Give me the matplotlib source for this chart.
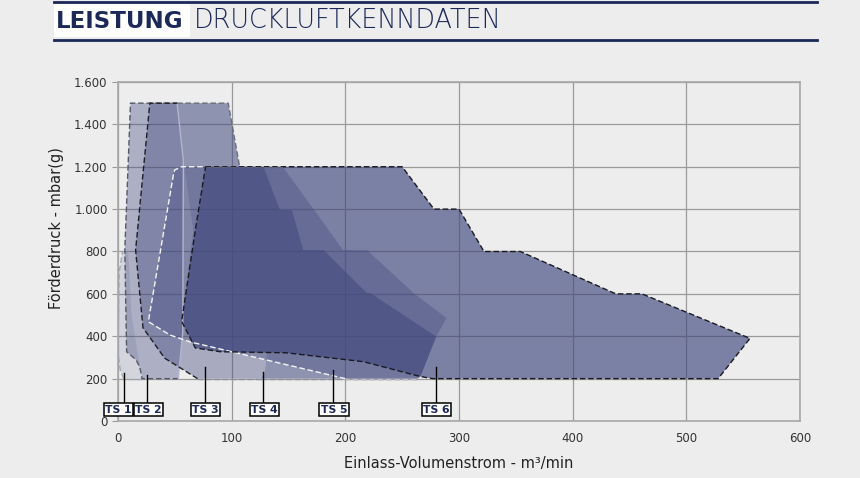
import matplotlib.pyplot as plt
from matplotlib.lines import Line2D
from matplotlib.patches import Rectangle, Polygon
from matplotlib.ticker import FuncFormatter

# ------------------------
# Data (Einlass-Volumenstrom m3/min, Förderdruck mbar)
# ------------------------
ts1_x = [5, 2, 0, 1, 4, 9, 12, 21]
ts1_y = [200, 240, 320, 700, 800, 800, 500, 200]

ts2_x = [11, 52, 57.5, 57, 53, 21, 21, 19, 16, 12, 7.6, 6]
ts2_y = [1500, 1500, 1230, 420, 200, 200, 209, 256, 288, 307, 327, 807]

ts3_x = [28, 52, 57.5, 66, 56, 68, 90, 131, 129, 126, 70, 41, 22, 15.5]
ts3_y = [1500, 1500, 1230, 900, 470, 345, 327, 320, 233, 200, 200, 297, 440, 807]

ts4_x = [52, 97, 107, 128, 142.5, 153, 163, 181, 219, 222, 280, 266, 264, 126, 129, 131, 90, 68, 56, 66, 57.5]
ts4_y = [1500, 1500, 1200, 1200, 996, 996, 807, 807, 604, 604, 398, 209, 200, 200, 233, 320, 327, 345, 470, 900, 1230]

ts5_x = [50, 56, 145, 198, 219, 260, 289, 280, 266, 262, 200, 63, 45.7, 26.7, 49]
ts5_y = [1185, 1200, 1200, 807, 807, 604, 486, 398, 209, 200, 200, 374, 406, 469, 1170]

ts6_x = [77, 250, 278, 300, 322, 354, 438, 461, 556, 528, 277, 266, 216, 148, 90, 68, 56, 68]
ts6_y = [1200, 1200, 1000, 1000, 800, 800, 600, 600, 390, 200, 200, 210, 280, 322, 327, 345, 470, 900]

labels = ['TS 1', 'TS 2', 'TS 3', 'TS 4', 'TS 5', 'TS 6']
label_x = [0.5, 26.7, 77, 129, 190, 280]
pointer_x = [5, 25.5, 76.5, 128, 189, 279.5]
pointer_y = [225, 217, 255, 230, 240, 256]

x_ticks = [0, 100, 200, 300, 400, 500, 600]
y_ticks = [0, 200, 400, 600, 800, 1000, 1200, 1400, 1600]

# ------------------------
# Style
# ------------------------
bg = '#ededed'
navy = '#1b2858'
base = '#41497e'
grid_c = '#9a9a9a'
dash = (0, (4, 2))

series = [(ts1_x, ts1_y), (ts2_x, ts2_y), (ts3_x, ts3_y),
          (ts4_x, ts4_y), (ts5_x, ts5_y), (ts6_x, ts6_y)]
alphas = [0.15, 0.37, 0.40, 0.55, 0.37, 0.66]

# visible outline pieces: (series index, vertex indices, colour, style)
outlines = [
    (0, [0, 1, 2, 3, 4, 5], '#a4a6b6', dash),
    (0, [7, 0], '#a4a6b6', dash),
    (1, [4, 5, 6, 7, 8, 9, 10, 11, 0, 1], '#55586a', dash),
    (1, [1, 2, 3, 4], '#b3b5cb', '-'),
    (3, [0, 1, 2], '#6a6d7a', dash),
    (3, [13, 12], '#8e909c', dash),
    (2, [9, 10], '#8e909c', dash),
    (2, [10, 11, 12, 13, 0, 1], '#1e1e26', dash),
    (4, [9, 10], '#b9bac6', dash),
    (4, [10, 11, 12, 13, 14, 0, 1, 2], '#f4f4f4', dash),
    (5, list(range(18)) + [0], '#1a1a22', dash),
]

fig = plt.figure(figsize=(8.6, 4.78), dpi=100, facecolor=bg)
ax = fig.add_axes([0.1372, 0.1192, 0.793, 0.7093])
ax.set_facecolor(bg)

# fills
for (xs, ys), a in zip(series, alphas):
    ax.add_patch(Polygon(list(zip(xs, ys)), closed=True, facecolor=base,
                         alpha=a, edgecolor='none', zorder=2))

# dashed outlines
for k, idx, col, ls in outlines:
    xs, ys = series[k]
    ax.plot([xs[i] for i in idx], [ys[i] for i in idx], color=col,
            linewidth=1.0, linestyle=ls, zorder=3)

# labels
for lab, lx, px, py in zip(labels, label_x, pointer_x, pointer_y):
    ax.plot([px, px], [80, py], color='black', linewidth=1.0, zorder=4)
    ax.text(lx, 54, lab, ha='center', va='center', fontsize=7.8,
            fontweight='bold', color=navy, zorder=5, clip_on=False,
            bbox=dict(boxstyle='square,pad=0.12', facecolor='white',
                      edgecolor='black', linewidth=1.1))

# axes
ax.set_xlim(0, 600)
ax.set_ylim(0, 1600)
ax.set_xticks(x_ticks)
ax.set_yticks(y_ticks)
ax.yaxis.set_major_formatter(FuncFormatter(lambda v, p: f'{v:,.0f}'.replace(',', '.')))
ax.tick_params(axis='both', labelsize=8.5, colors='#333333', length=4,
               width=0.8, color=grid_c)
ax.tick_params(axis='x', length=0, pad=8)
ax.grid(True, color=grid_c, linewidth=0.9, zorder=1)
ax.set_axisbelow(True)
for s in ax.spines.values():
    s.set_color('#a8a8a8')
    s.set_linewidth(1.2)

ax.set_xlabel('Einlass-Volumenstrom - m³/min', fontsize=10.5, color='#222222', labelpad=8)
ax.set_ylabel('Förderdruck - mbar(g)', fontsize=10.5, color='#222222')
ax.yaxis.set_label_coords(-0.079, 0.568)

# ------------------------
# Header
# ------------------------
W, H = 860, 478
fig.add_artist(Line2D([54 / W, 817 / W], [1 - 1.5 / H] * 2, color=navy, linewidth=2))
fig.add_artist(Line2D([54 / W, 817 / W], [1 - 40 / H] * 2, color=navy, linewidth=2))
fig.add_artist(Rectangle((54 / W, 1 - 37 / H), 136 / W, 33 / H,
                         transform=fig.transFigure, facecolor='white', edgecolor='none'))
fig.text(56 / W, 1 - 21 / H, 'LEISTUNG', fontsize=16.5, fontweight='bold',
         color=navy, va='center', ha='left')
fig.text(194 / W, 1 - 21 / H, 'DRUCKLUFTKENNDATEN', fontsize=18.4,
         fontweight='light', color=navy, va='center', ha='left')

fig.savefig('out.png', dpi=100, facecolor=bg)
